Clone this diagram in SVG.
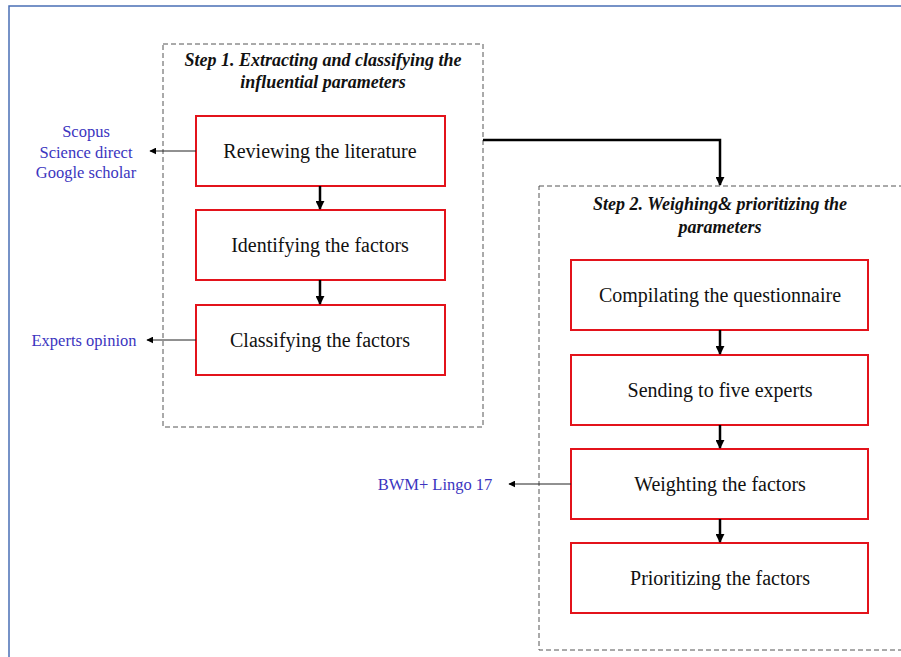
<svg xmlns="http://www.w3.org/2000/svg" width="901" height="657" viewBox="0 0 901 657">
<defs>
<style>
.frame{fill:none;stroke:#4a6fb5;stroke-width:1.5}
.step{fill:none;stroke:#555;stroke-width:1;stroke-dasharray:5,3}
.box{fill:#fff;stroke:#e3131b;stroke-width:2}
.t{font-family:"Liberation Serif",serif;font-size:20px;fill:#111;text-anchor:middle}
.h{font-family:"Liberation Serif",serif;font-size:18px;font-weight:bold;font-style:italic;fill:#111;text-anchor:middle}
.b{font-family:"Liberation Serif",serif;font-size:16.5px;fill:#3b35c0;text-anchor:middle}
.thin{fill:none;stroke:#222;stroke-width:1}
.thick{fill:none;stroke:#000;stroke-width:2.5}
</style>
<marker id="ah" viewBox="0 0 10 10" refX="9" refY="5" markerWidth="9" markerHeight="9" markerUnits="userSpaceOnUse" orient="auto"><path d="M0,0 L10,5 L0,10 z" fill="#000"/></marker>
<marker id="ahs" viewBox="0 0 10 10" refX="9" refY="5" markerWidth="7" markerHeight="7" markerUnits="userSpaceOnUse" orient="auto"><path d="M0,0 L10,5 L0,10 z" fill="#000"/></marker>
</defs>
<rect x="0" y="0" width="901" height="657" fill="#fff"/>
<path class="frame" d="M9,660 L9,6 L905,6"/>
<g id="step1">
<rect class="step" x="163" y="44" width="320" height="383"/>
<text class="h" x="323" y="66">Step 1. Extracting and classifying the</text>
<text class="h" x="323" y="88">influential parameters</text>
</g>
<g id="step2">
<rect class="step" x="539" y="186" width="370" height="464"/>
<text class="h" x="720" y="210">Step 2. Weighing&amp; prioritizing the</text>
<text class="h" x="720" y="233">parameters</text>
</g>
<g id="n1"><rect class="box" x="196" y="116" width="249" height="70"/><text class="t" x="320" y="158">Reviewing the literature</text></g>
<g id="n2"><rect class="box" x="196" y="210" width="249" height="70"/><text class="t" x="320" y="252">Identifying the factors</text></g>
<g id="n3"><rect class="box" x="196" y="305" width="249" height="70"/><text class="t" x="320" y="347">Classifying the factors</text></g>
<g id="n4"><rect class="box" x="571" y="260" width="297" height="70"/><text class="t" x="720" y="302">Compilating the questionnaire</text></g>
<g id="n5"><rect class="box" x="571" y="355" width="297" height="70"/><text class="t" x="720" y="397">Sending to five experts</text></g>
<g id="n6"><rect class="box" x="571" y="449" width="297" height="70"/><text class="t" x="720" y="491">Weighting the factors</text></g>
<g id="n7"><rect class="box" x="571" y="543" width="297" height="70"/><text class="t" x="720" y="585">Prioritizing the factors</text></g>
<g id="src1"><text class="b" x="86" y="137">Scopus</text><text class="b" x="86" y="158">Science direct</text><text class="b" x="86" y="178">Google scholar</text></g>
<g id="src2"><text class="b" x="84" y="346">Experts opinion</text></g>
<g id="src3"><text class="b" x="435" y="490">BWM+ Lingo 17</text></g>
<g id="connectors">
<path class="thick" d="M320,186 L320,209" marker-end="url(#ah)"/>
<path class="thick" d="M320,280 L320,304" marker-end="url(#ah)"/>
<path class="thick" d="M483,140 L720,140 L720,185" marker-end="url(#ah)"/>
<path class="thick" d="M720,330 L720,354" marker-end="url(#ah)"/>
<path class="thick" d="M720,425 L720,448" marker-end="url(#ah)"/>
<path class="thick" d="M720,519 L720,542" marker-end="url(#ah)"/>
<path class="thin" d="M196,151 L150,151" marker-end="url(#ahs)"/>
<path class="thin" d="M196,340 L147,340" marker-end="url(#ahs)"/>
<path class="thin" d="M571,484 L509,484" marker-end="url(#ahs)"/>
</g>
</svg>
